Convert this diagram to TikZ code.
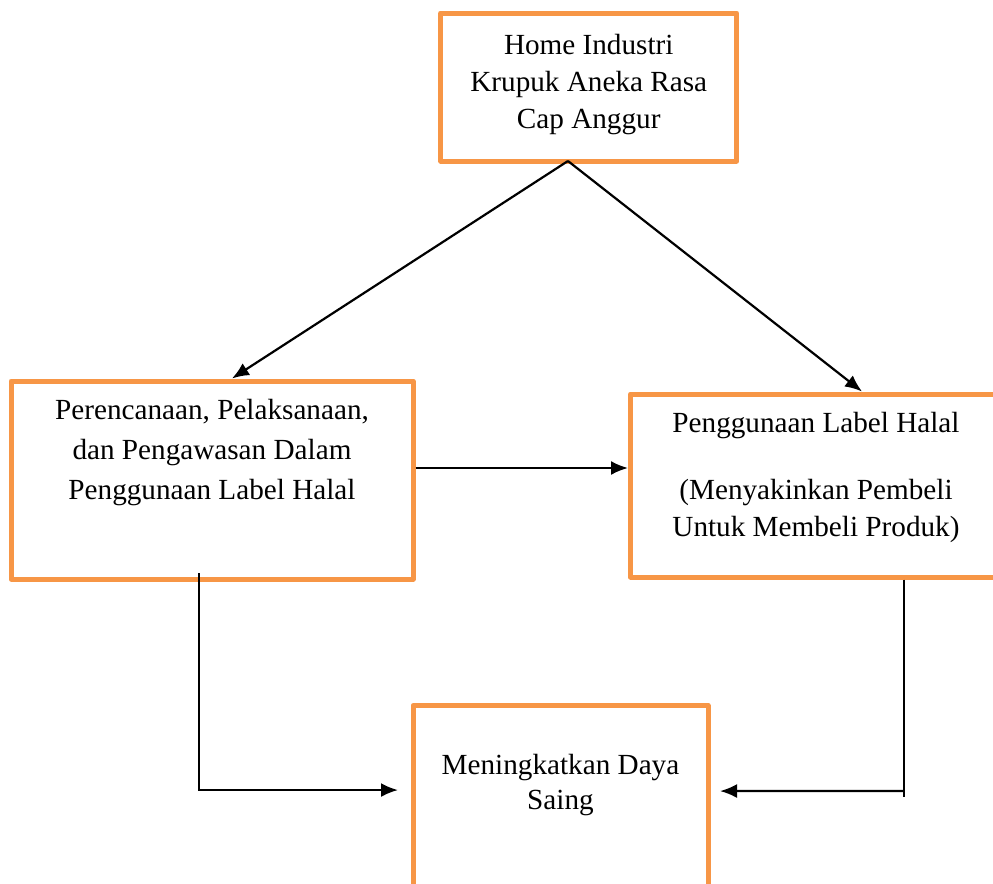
\documentclass[tikz,border=0pt]{standalone}
\usepackage{fontspec}
\setmainfont{Liberation Serif}
\usetikzlibrary{arrows.meta}

\definecolor{boxorange}{RGB}{247,150,70}

\tikzset{
  box/.style={draw=boxorange, line width=2.5pt, line join=round, inner sep=0pt},
  lbl/.style={align=center, inner sep=0pt, font=\fontsize{14.6}{18.5}\selectfont},
  arr/.style={-{Latex[length=8.5pt,width=7pt]}, line width=1.1pt},
  line/.style={line width=0.9pt}
}

\begin{document}
\begin{tikzpicture}[x=0.5pt, y=-0.5pt]
    \clip (0,0) rectangle (993,884);

    % boxes
    \node[box, minimum width=148pt, minimum height=74pt] (home) at (588.75,87) {};
    \node[box, minimum width=201pt, minimum height=99pt] (plan) at (212,480) {};
    \node[box, minimum width=185.5pt, minimum height=91.5pt] (label) at (816,485.5) {};
    \node[box, minimum width=147.5pt, minimum height=102.75pt] (saing) at (560.5,808.25) {};

    % texts
    \node[lbl] (hometext) at ([yshift=1.25pt]home.center) {Home Industri\\Krupuk Aneka Rasa\\Cap Anggur};
    \node[lbl, font=\fontsize{14.6}{20}\selectfont] (plantext) at ([yshift=13.5pt]plan.center)
        {Perencanaan, Pelaksanaan,\\dan Pengawasan Dalam\\Penggunaan Label Halal};
    \node[lbl] (labeltext) at ([yshift=4.25pt]label.center)
        {Penggunaan Label Halal\\[15pt](Menyakinkan Pembeli\\Untuk Membeli Produk)};
    \node[lbl, font=\fontsize{14.6}{17.5}\selectfont] (saingtext) at ([yshift=11.4pt]saing.center)
        {Meningkatkan Daya\\Saing};

    % arrows
    \coordinate (split) at ([xshift=-10.4pt,yshift=1.25pt]home.south);
    \draw[arr] (split) -- ([xshift=10pt]plan.north);
    \draw[arr] (split) -- ([xshift=23pt]label.north);

    \coordinate (mid) at ([yshift=6pt]plan.east);
    \draw[arr] (mid) -- (mid -| label.west);

    \draw[arr] ([xshift=-6.5pt,yshift=4.25pt]plan.south) |- ([xshift=-6.25pt,yshift=9.1pt]saing.west);

    \coordinate (knee) at ([xshift=44pt]label.south);
    \draw[line] (knee) -- ++(0,217.5);
    \draw[arr] ([yshift=-105.75pt]knee) -- ([xshift=4.75pt,yshift=8.6pt]saing.east);
\end{tikzpicture}
\end{document}
